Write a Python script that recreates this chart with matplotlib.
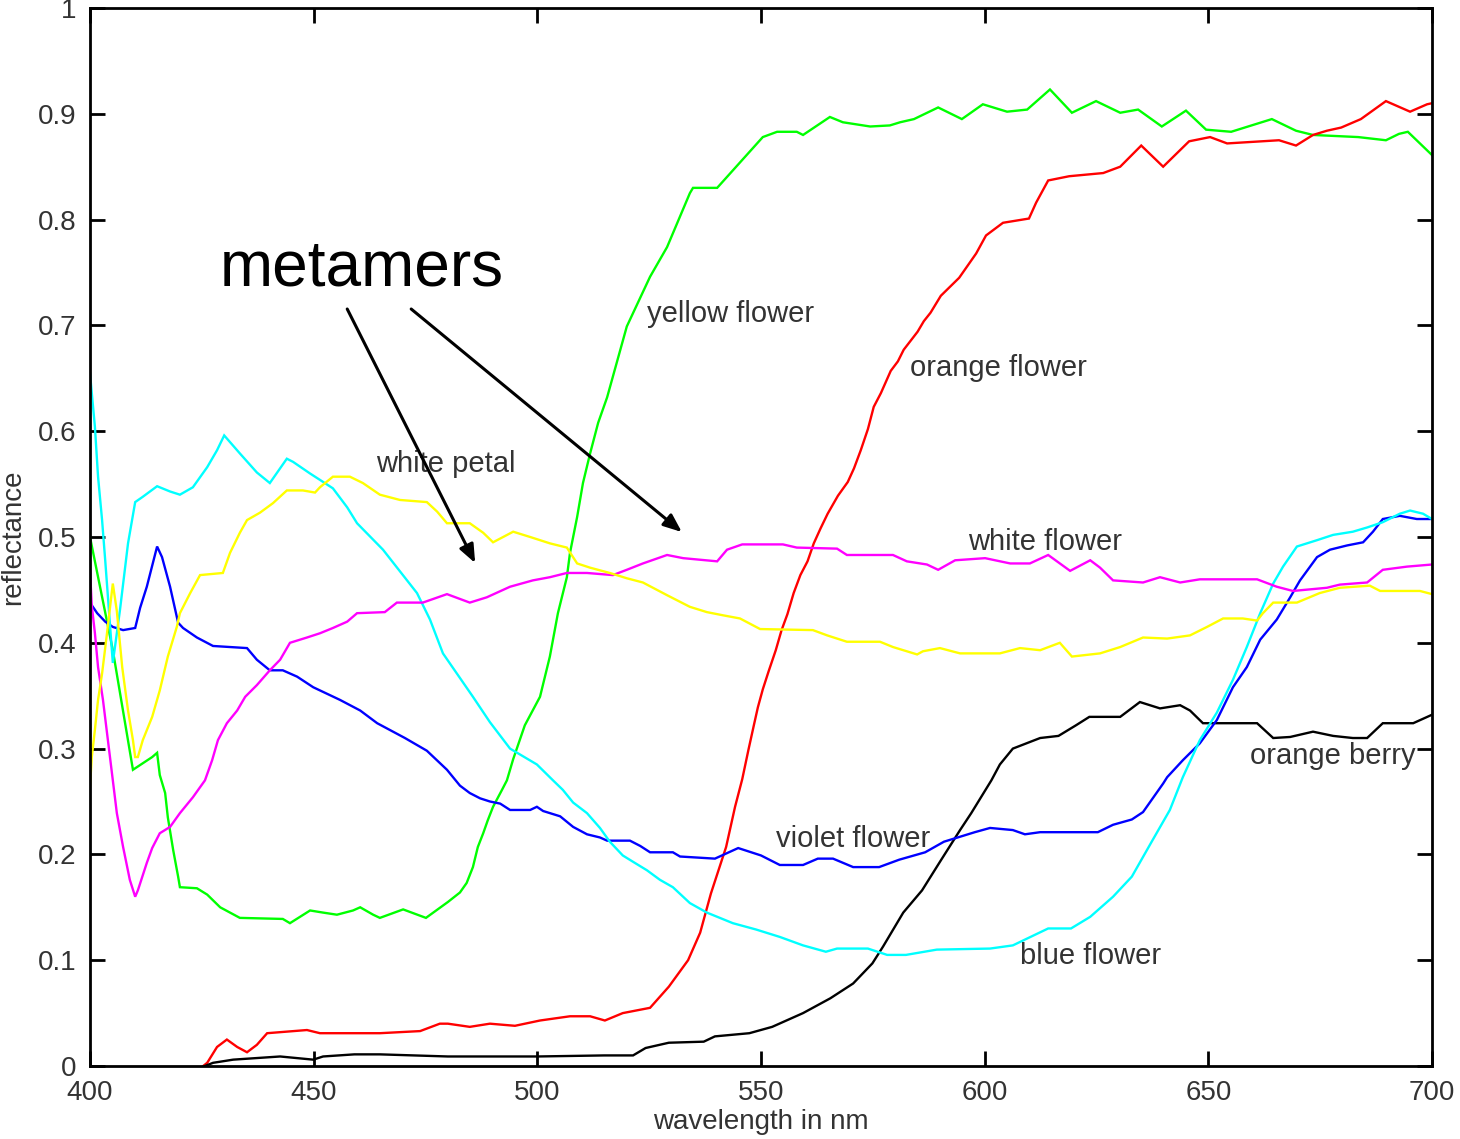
import matplotlib.pyplot as plt

plt.rcParams['font.family'] = ['Liberation Sans', 'DejaVu Sans']

# --- data (wavelength nm, reflectance) ---
yellow_flower_nm = [400.0, 405.1, 409.6, 413.9, 415.0, 415.6, 416.8, 417.4, 418.6, 419.7, 420.1, 423.9,
                    426.2, 429.1, 433.5, 443.1, 444.7, 449.2, 452.1, 455.2, 458.8, 460.4, 463.3, 464.8,
                    470.0, 475.1, 480.0, 482.7, 484.2, 485.6, 486.7, 487.9, 488.9, 490.1, 492.1, 493.2,
                    494.6, 497.2, 500.6, 502.8, 504.6, 506.6, 507.3, 508.9, 510.2, 511.8, 513.6, 515.6,
                    520.0, 525.2, 529.0, 534.1, 534.8, 540.2, 550.4, 553.6, 558.0, 559.4, 565.4, 568.3,
                    574.4, 578.8, 581.1, 584.2, 589.6, 594.9, 599.6, 605.0, 609.5, 614.6, 619.5, 624.9,
                    630.3, 634.3, 639.6, 645.0, 649.5, 655.1, 664.2, 669.6, 673.4, 683.5, 689.7, 692.6,
                    694.6, 700.0]
yellow_flower = [0.500, 0.393, 0.280, 0.292, 0.296, 0.275, 0.258, 0.235, 0.204, 0.179, 0.169, 0.168,
                 0.162, 0.150, 0.140, 0.139, 0.135, 0.147, 0.145, 0.143, 0.147, 0.150, 0.143, 0.140,
                 0.148, 0.140, 0.155, 0.164, 0.173, 0.188, 0.207, 0.220, 0.232, 0.245, 0.261, 0.270,
                 0.290, 0.322, 0.349, 0.387, 0.428, 0.462, 0.485, 0.519, 0.551, 0.579, 0.608, 0.632,
                 0.699, 0.746, 0.774, 0.825, 0.830, 0.830, 0.878, 0.883, 0.883, 0.880, 0.897, 0.892,
                 0.888, 0.889, 0.892, 0.895, 0.906, 0.895, 0.909, 0.902, 0.904, 0.923, 0.901, 0.912,
                 0.901, 0.904, 0.888, 0.903, 0.885, 0.883, 0.895, 0.884, 0.880, 0.878, 0.875, 0.881,
                 0.883, 0.861]

orange_flower_nm = [425.3, 426.2, 428.4, 430.6, 432.9, 435.1, 437.3, 439.6, 448.5, 451.4, 464.8, 473.8,
                    478.2, 480.0, 484.9, 489.4, 495.0, 500.6, 507.3, 511.8, 515.1, 519.1, 525.2, 529.4,
                    533.7, 536.4, 538.8, 542.2, 544.2, 545.8, 547.2, 548.4, 549.3, 550.4, 551.7, 553.3,
                    554.6, 555.9, 557.3, 558.8, 560.4, 561.8, 563.3, 564.9, 567.2, 569.4, 570.8, 572.3,
                    573.9, 575.2, 576.8, 579.0, 580.6, 581.9, 585.0, 586.4, 587.9, 590.2, 594.3, 598.1,
                    600.3, 604.1, 609.9, 611.5, 614.2, 618.9, 626.5, 630.3, 635.0, 639.9, 645.7, 650.4,
                    654.2, 665.8, 669.6, 673.4, 676.5, 679.7, 684.1, 689.7, 695.1, 698.9, 700.0]
orange_flower = [0.000, 0.003, 0.018, 0.025, 0.018, 0.013, 0.020, 0.031, 0.034, 0.031, 0.031, 0.033,
                 0.040, 0.040, 0.037, 0.040, 0.038, 0.043, 0.047, 0.047, 0.043, 0.050, 0.055, 0.075,
                 0.100, 0.126, 0.163, 0.207, 0.245, 0.271, 0.299, 0.322, 0.339, 0.356, 0.373, 0.393,
                 0.412, 0.427, 0.447, 0.464, 0.477, 0.494, 0.508, 0.522, 0.539, 0.552, 0.565, 0.582,
                 0.602, 0.623, 0.636, 0.657, 0.666, 0.677, 0.694, 0.704, 0.712, 0.728, 0.745, 0.768,
                 0.785, 0.797, 0.801, 0.816, 0.837, 0.841, 0.844, 0.850, 0.870, 0.850, 0.874, 0.878,
                 0.872, 0.875, 0.870, 0.880, 0.884, 0.887, 0.895, 0.912, 0.902, 0.909, 0.910]

orange_berry_nm = [425.7, 427.5, 432.0, 442.5, 449.9, 452.1, 459.1, 464.8, 480.0, 500.0, 515.0, 521.4,
                   524.2, 529.4, 537.2, 539.7, 547.4, 552.5, 559.4, 565.5, 570.6, 574.9, 577.3, 581.8,
                   586.0, 590.3, 594.5, 597.0, 601.5, 603.4, 606.3, 612.4, 616.5, 620.4, 623.4, 627.9,
                   630.3, 634.7, 639.2, 643.7, 645.9, 648.8, 660.9, 664.5, 668.3, 673.4, 677.9, 682.3,
                   685.5, 689.0, 695.8, 700.0]
orange_berry = [0.000, 0.003, 0.006, 0.009, 0.006, 0.009, 0.011, 0.011, 0.009, 0.009, 0.010, 0.010,
                0.017, 0.022, 0.023, 0.028, 0.031, 0.037, 0.050, 0.064, 0.078, 0.097, 0.113, 0.145,
                0.166, 0.195, 0.223, 0.239, 0.270, 0.285, 0.300, 0.310, 0.312, 0.322, 0.330, 0.330,
                0.330, 0.344, 0.338, 0.341, 0.336, 0.324, 0.324, 0.310, 0.311, 0.316, 0.312, 0.310,
                0.310, 0.324, 0.324, 0.332]

violet_flower_nm = [400.0, 401.6, 403.4, 405.1, 407.4, 410.1, 411.2, 412.7, 415.0, 416.1, 417.9, 419.7,
                    420.8, 423.9, 427.5, 435.1, 437.3, 440.2, 443.1, 446.3, 449.9, 455.9, 460.4, 464.2,
                    470.4, 475.3, 479.8, 482.7, 484.9, 487.2, 489.4, 491.7, 493.9, 498.4, 499.9, 501.3,
                    505.1, 508.0, 511.1, 514.0, 515.6, 520.7, 523.0, 525.2, 530.3, 531.9, 539.7, 544.9,
                    550.0, 554.2, 559.4, 562.7, 566.1, 570.6, 576.4, 580.9, 586.7, 590.9, 597.8, 601.2,
                    606.3, 609.0, 612.4, 625.3, 628.7, 632.9, 635.4, 639.9, 640.8, 644.3, 648.1, 651.9,
                    655.5, 658.6, 661.6, 665.3, 668.3, 670.5, 674.3, 677.2, 681.0, 684.6, 686.8, 689.0,
                    692.8, 696.6, 700.0]
violet_flower = [0.438, 0.428, 0.420, 0.415, 0.412, 0.414, 0.433, 0.453, 0.491, 0.481, 0.453, 0.419,
                 0.414, 0.405, 0.397, 0.395, 0.384, 0.374, 0.374, 0.368, 0.358, 0.346, 0.336, 0.324,
                 0.310, 0.298, 0.280, 0.265, 0.258, 0.253, 0.250, 0.248, 0.242, 0.242, 0.245, 0.241,
                 0.236, 0.226, 0.219, 0.216, 0.213, 0.213, 0.208, 0.202, 0.202, 0.198, 0.196, 0.206,
                 0.199, 0.190, 0.190, 0.196, 0.196, 0.188, 0.188, 0.195, 0.202, 0.212, 0.221, 0.225,
                 0.223, 0.219, 0.221, 0.221, 0.228, 0.233, 0.240, 0.267, 0.273, 0.289, 0.305, 0.327,
                 0.358, 0.377, 0.403, 0.422, 0.443, 0.459, 0.481, 0.488, 0.492, 0.495, 0.505, 0.517,
                 0.520, 0.517, 0.517]

blue_flower_nm = [400.0, 400.4, 401.1, 401.8, 402.7, 403.4, 405.1, 406.7, 408.5, 410.1, 411.8, 415.0,
                  417.9, 420.1, 423.0, 426.2, 428.4, 430.0, 433.5, 437.3, 440.2, 444.0, 445.4, 449.2,
                  451.4, 454.3, 457.5, 459.7, 465.5, 473.1, 476.0, 478.9, 485.6, 489.4, 493.9, 499.9,
                  503.5, 505.7, 508.0, 511.1, 514.0, 516.2, 519.1, 521.4, 524.5, 527.4, 530.3, 534.1,
                  537.9, 543.7, 548.9, 554.2, 559.4, 564.5, 567.0, 573.9, 578.2, 582.4, 589.3, 601.2,
                  606.3, 614.2, 619.3, 623.6, 628.7, 632.9, 637.2, 641.4, 644.3, 648.1, 651.9, 655.5,
                  658.6, 661.6, 664.5, 666.7, 669.8, 674.3, 677.9, 682.3, 685.5, 689.0, 692.8, 695.1,
                  698.0, 700.0]
blue_flower = [0.655, 0.636, 0.604, 0.557, 0.516, 0.478, 0.381, 0.431, 0.494, 0.533, 0.538, 0.548,
               0.543, 0.540, 0.547, 0.566, 0.582, 0.596, 0.579, 0.561, 0.551, 0.574, 0.571, 0.560,
               0.554, 0.546, 0.528, 0.513, 0.488, 0.447, 0.422, 0.390, 0.349, 0.325, 0.300, 0.285,
               0.270, 0.261, 0.249, 0.239, 0.225, 0.212, 0.199, 0.193, 0.185, 0.176, 0.169, 0.154,
               0.145, 0.135, 0.129, 0.122, 0.114, 0.108, 0.111, 0.111, 0.105, 0.105, 0.110, 0.111,
               0.114, 0.130, 0.130, 0.141, 0.160, 0.179, 0.211, 0.242, 0.273, 0.308, 0.334, 0.365,
               0.396, 0.428, 0.456, 0.472, 0.491, 0.497, 0.502, 0.505, 0.509, 0.514, 0.522, 0.525,
               0.522, 0.517]

white_flower_nm = [400.0, 400.4, 401.1, 401.8, 402.9, 404.0, 404.9, 406.0, 407.4, 408.9, 410.1, 410.7,
                   412.7, 413.9, 415.6, 417.9, 420.1, 423.0, 425.7, 427.3, 428.6, 430.6, 432.9, 434.7,
                   437.3, 440.2, 442.5, 444.7, 448.5, 451.4, 454.3, 457.5, 459.7, 465.9, 468.6, 474.4,
                   479.8, 484.9, 488.7, 493.9, 499.0, 502.8, 506.6, 511.1, 516.9, 520.0, 523.6, 529.0,
                   532.6, 540.2, 542.4, 545.8, 554.9, 558.0, 567.0, 569.2, 579.5, 582.6, 587.1, 589.6,
                   593.4, 600.1, 605.7, 610.1, 614.2, 619.1, 623.6, 625.8, 628.7, 635.4, 639.2, 643.7,
                   648.1, 660.9, 665.3, 668.9, 676.5, 679.4, 685.5, 689.0, 694.4, 700.0]
white_flower = [0.469, 0.435, 0.409, 0.377, 0.346, 0.308, 0.277, 0.239, 0.207, 0.176, 0.160, 0.166,
                0.192, 0.206, 0.220, 0.226, 0.239, 0.254, 0.270, 0.289, 0.308, 0.324, 0.336, 0.349,
                0.360, 0.374, 0.384, 0.400, 0.405, 0.409, 0.414, 0.420, 0.428, 0.429, 0.438, 0.438,
                0.446, 0.438, 0.443, 0.453, 0.459, 0.462, 0.466, 0.466, 0.464, 0.469, 0.475, 0.483,
                0.480, 0.477, 0.488, 0.493, 0.493, 0.490, 0.489, 0.483, 0.483, 0.477, 0.474, 0.469,
                0.478, 0.480, 0.475, 0.475, 0.483, 0.468, 0.478, 0.471, 0.459, 0.457, 0.462, 0.457,
                0.460, 0.460, 0.453, 0.449, 0.452, 0.455, 0.457, 0.469, 0.472, 0.474]

white_petal_nm = [400.0, 400.4, 401.1, 401.8, 402.7, 403.8, 405.1, 406.0, 407.2, 407.8, 408.5, 409.6,
                  410.1, 410.7, 411.8, 413.9, 415.6, 417.4, 419.4, 420.1, 422.4, 424.6, 429.7, 431.3,
                  433.5, 435.1, 438.0, 440.9, 444.0, 447.6, 450.3, 451.4, 454.3, 458.1, 461.0, 464.8,
                  469.3, 475.3, 477.6, 479.8, 484.9, 487.9, 490.1, 494.6, 498.4, 502.8, 506.6, 508.9,
                  511.8, 516.2, 520.0, 523.6, 529.0, 534.1, 537.9, 541.5, 545.3, 549.8, 561.6, 564.8,
                  569.2, 576.6, 579.5, 584.9, 586.2, 590.0, 594.5, 603.4, 607.9, 612.4, 616.8, 619.5,
                  625.8, 630.3, 635.4, 640.8, 645.9, 649.7, 653.3, 657.7, 660.9, 662.2, 664.5, 669.8,
                  674.9, 679.4, 686.1, 688.4, 697.3, 700.0]
white_petal = [0.264, 0.292, 0.318, 0.346, 0.371, 0.409, 0.456, 0.430, 0.377, 0.358, 0.336, 0.308,
               0.292, 0.292, 0.308, 0.330, 0.355, 0.387, 0.415, 0.428, 0.447, 0.464, 0.466, 0.485,
               0.504, 0.516, 0.523, 0.532, 0.544, 0.544, 0.542, 0.547, 0.557, 0.557, 0.551, 0.540,
               0.535, 0.533, 0.524, 0.513, 0.513, 0.504, 0.495, 0.505, 0.500, 0.494, 0.490, 0.475,
               0.471, 0.466, 0.461, 0.457, 0.445, 0.434, 0.429, 0.426, 0.423, 0.413, 0.412, 0.407,
               0.401, 0.401, 0.396, 0.389, 0.392, 0.395, 0.390, 0.390, 0.395, 0.393, 0.400, 0.387,
               0.390, 0.396, 0.405, 0.404, 0.407, 0.415, 0.423, 0.423, 0.421, 0.428, 0.438, 0.438,
               0.447, 0.452, 0.454, 0.449, 0.449, 0.446]

series = [
    (yellow_flower_nm, yellow_flower, '#00ff00'),
    (orange_flower_nm, orange_flower, '#ff0000'),
    (orange_berry_nm, orange_berry, '#000000'),
    (violet_flower_nm, violet_flower, '#0000ff'),
    (blue_flower_nm, blue_flower, '#00ffff'),
    (white_flower_nm, white_flower, '#ff00ff'),
    (white_petal_nm, white_petal, '#ffff00'),
]

# curve labels: (text, x nm, baseline reflectance)
labels = [
    ("yellow flower", 524.5, 0.703),
    ("orange flower", 583.3, 0.652),
    ("white petal", 463.9, 0.561),
    ("white flower", 596.3, 0.488),
    ("orange berry", 659.3, 0.285),
    ("violet flower", 553.4, 0.207),
    ("blue flower", 607.9, 0.0964),
]

# arrows from "metamers" to the two crossing curves
arrows = [((457.5, 0.7155), (486.1, 0.4754)),
          ((471.8, 0.7155), (532.3, 0.5047))]

# --- plot ---
fig = plt.figure(figsize=(14.6, 11.39), dpi=100)
ax = fig.add_axes([90 / 1460, 73 / 1139, 1342 / 1460, 1058 / 1139])

for x, y, c in series:
    ax.plot(x, y, color=c, linewidth=1.7, solid_joinstyle='miter')

for txt, x, y in labels:
    ax.text(x, y, txt, fontsize=21, color='#333333', va='baseline', ha='left')

ax.text(429.1, 0.738, "metamers", fontsize=46, color='black', va='baseline', ha='left')

for (x0, y0), (x1, y1) in arrows:
    ax.annotate("", xy=(x1, y1), xytext=(x0, y0),
                arrowprops=dict(arrowstyle='-|>,head_length=1.1,head_width=0.45',
                                color='black', lw=2.2, shrinkA=0, shrinkB=0))

ax.set_xlim(400, 700)
ax.set_ylim(0, 1)
ax.set_xticks([400, 450, 500, 550, 600, 650, 700])
ax.set_yticks([0, 0.1, 0.2, 0.3, 0.4, 0.5, 0.6, 0.7, 0.8, 0.9, 1.0])
ax.set_yticklabels(['0', '0.1', '0.2', '0.3', '0.4', '0.5', '0.6', '0.7', '0.8', '0.9', '1'])
ax.tick_params(direction='in', length=11, width=2, top=True, right=True,
               labelsize=20, labelcolor='#333333', pad=10)
for sp in ax.spines.values():
    sp.set_linewidth(2)

ax.set_xlabel("wavelength in nm", fontsize=20, color='#333333', labelpad=2)
ax.set_ylabel("reflectance", fontsize=20, color='#333333', labelpad=8)

fig.savefig("out.png", dpi=100)
